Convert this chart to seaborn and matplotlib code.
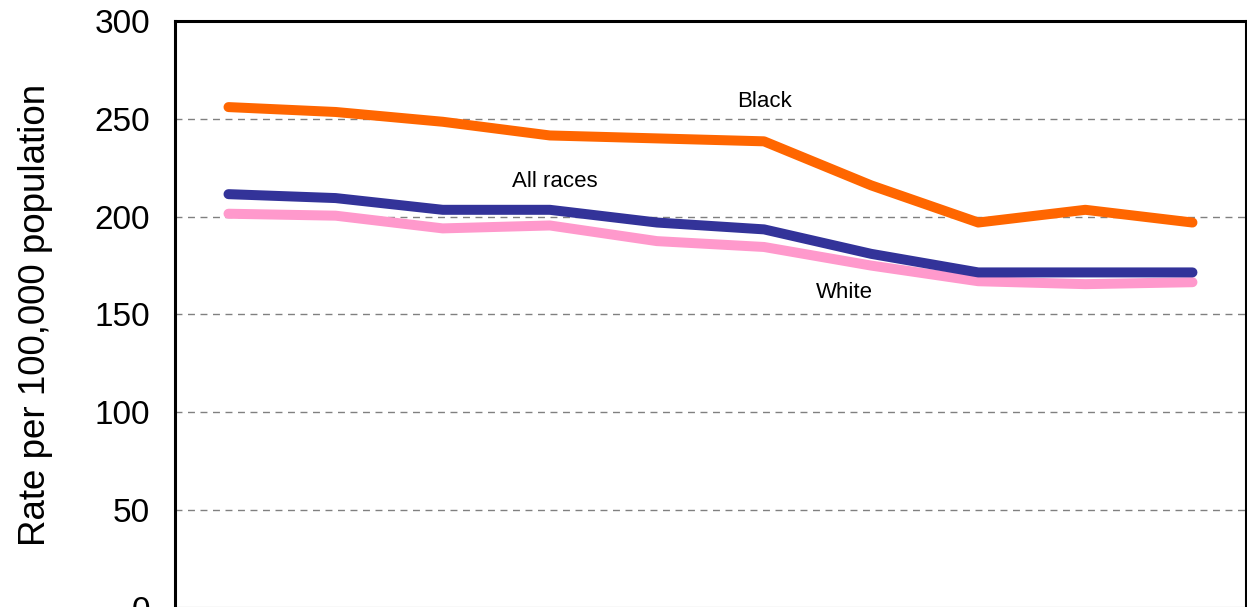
import numpy as np
import pandas as pd
import matplotlib
matplotlib.use("Agg")
import matplotlib.pyplot as plt
import seaborn as sns

# data
points = list(range(10))
black = [256, 253.5, 248.5, 241.5, 240, 238.5, 216, 197, 203.5, 197]
all_races = [211.5, 209.5, 203.5, 203.5, 197, 193.5, 181, 171.5, 171.5, 171.5]
white = [201.5, 200.5, 194, 195.5, 187.5, 184.5, 175, 167, 165.5, 166.5]
series_names = ["White", "All races", "Black"]
series_colors = ["#FF99CC", "#333399", "#FF6600"]
y_ticks = [0, 50, 100, 150, 200, 250, 300]

df = pd.DataFrame({
    "point": points * 3,
    "rate": white + all_races + black,
    "group": ["White"] * 10 + ["All races"] * 10 + ["Black"] * 10,
})

sns.set_theme(style="white")
plt.rcParams['font.family'] = ['Liberation Sans', 'DejaVu Sans']
plt.rcParams['text.color'] = 'black'
plt.rcParams['ytick.color'] = 'black'
plt.rcParams['axes.labelcolor'] = 'black'

fig = plt.figure(figsize=(12.47, 6.07), dpi=100)
ax = fig.add_axes([0.1403, -0.0016, 0.8589, 0.967])

for y in y_ticks[1:-1]:
    ax.axhline(y, color="#808080", lw=1.0, ls=(0, (5, 4)), zorder=0)

sns.lineplot(data=df, x="point", y="rate", hue="group", hue_order=series_names,
             palette=series_colors, linewidth=7.2, legend=False, ax=ax,
             solid_capstyle="round")

ax.set_xlim(-0.5, 9.5)
ax.set_ylim(0, 300)
ax.set_yticks(y_ticks)
ax.set_yticklabels([str(v) for v in y_ticks], fontsize=24)
ax.set_xticks([])
ax.tick_params(axis="y", length=0, pad=18)
ax.set_xlabel("")
ax.set_ylabel("Rate per 100,000 population", fontsize=26.5, labelpad=30)

for s in ax.spines.values():
    s.set_visible(True)
    s.set_color("black")
    s.set_linewidth(2.2)

ax.text(5.0, 259, "Black", fontsize=16, ha="center", va="center")
ax.text(3.05, 218, "All races", fontsize=16, ha="center", va="center")
ax.text(5.75, 161, "White", fontsize=16, ha="center", va="center")

fig.savefig("out.png", dpi=100)
